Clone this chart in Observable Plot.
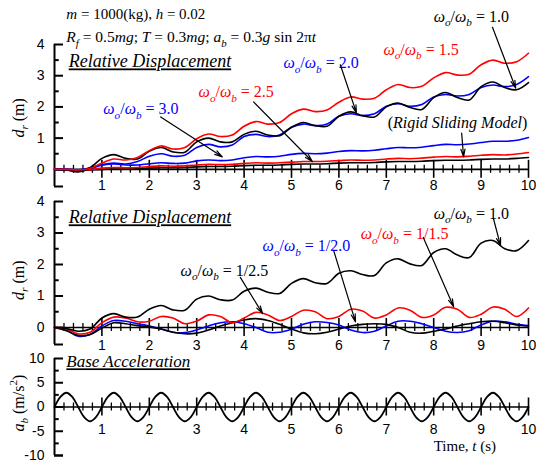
<!DOCTYPE html>
<html><head><meta charset="utf-8">
<script src="https://cdn.jsdelivr.net/npm/d3@7"></script>
<script src="https://cdn.jsdelivr.net/npm/@observablehq/plot@0.6"></script>
<style>
body{margin:0;background:#fff;}
#chart{position:relative;width:544px;height:462px;overflow:hidden;}
#chart svg{position:absolute;left:0;top:0;}
#chart text{font-weight:normal;}
</style></head><body><div id="chart"></div>
<script>
// ---------- data ----------
const time = [0,0.25,0.5,0.75,1,1.25,1.5,1.75,2,2.25,2.5,2.75,3,3.25,3.5,3.75,4,4.25,4.5,4.75,5,5.25,5.5,5.75,6,6.25,6.5,6.75,7,7.25,7.5,7.75,8,8.25,8.5,8.75,9,9.25,9.5,9.75,10];
// Panel 1 (omega_o/omega_b >= 1)
const top_r10 = [0,-0.02,-0.08,0.05,0.35,0.47,0.35,0.33,0.58,0.7,0.56,0.55,0.88,1.0,0.88,0.88,1.12,1.22,1.1,1.08,1.35,1.5,1.4,1.38,1.7,1.84,1.72,1.68,2.0,2.12,1.98,1.92,2.3,2.46,2.3,2.22,2.65,2.8,2.62,2.55,2.78];
const top_r15 = [0,0,-0.02,0.03,0.2,0.33,0.3,0.38,0.6,0.75,0.65,0.7,0.98,1.13,1.05,1.1,1.38,1.53,1.45,1.5,1.78,1.93,1.85,1.9,2.15,2.32,2.25,2.28,2.55,2.72,2.62,2.66,2.93,3.1,3.02,3.05,3.35,3.5,3.4,3.45,3.72];
const top_r20 = [0,0,-0.02,0.05,0.15,0.2,0.17,0.25,0.42,0.5,0.42,0.45,0.7,0.8,0.72,0.78,1.05,1.12,1.05,1.1,1.35,1.45,1.4,1.45,1.7,1.78,1.72,1.78,2.02,2.1,2.02,2.08,2.32,2.4,2.35,2.4,2.62,2.7,2.65,2.72,2.97];
const top_r25 = [0,0,-0.03,-0.01,0.04,0.06,0.05,0.06,0.09,0.11,0.1,0.11,0.14,0.16,0.15,0.16,0.19,0.21,0.2,0.21,0.23,0.25,0.25,0.26,0.28,0.3,0.29,0.3,0.33,0.35,0.34,0.36,0.39,0.41,0.4,0.42,0.45,0.47,0.46,0.49,0.54];
const top_r30 = [0,0,-0.02,0.03,0.13,0.17,0.14,0.14,0.18,0.21,0.19,0.2,0.27,0.3,0.28,0.3,0.37,0.41,0.4,0.42,0.48,0.51,0.5,0.52,0.57,0.6,0.59,0.61,0.66,0.7,0.69,0.71,0.76,0.8,0.79,0.81,0.86,0.9,0.9,0.93,1.02];
const top_rigid = [0,-0.01,-0.04,-0.02,0,0.01,0.01,0.02,0.04,0.05,0.05,0.06,0.08,0.09,0.09,0.1,0.12,0.13,0.13,0.14,0.16,0.17,0.17,0.18,0.2,0.21,0.21,0.22,0.24,0.25,0.25,0.26,0.28,0.29,0.29,0.3,0.32,0.33,0.33,0.35,0.38];
// Panel 2 (omega_o/omega_b <= 1)
const mid_r10 = [0,-0.03,-0.12,-0.05,0.3,0.44,0.33,0.33,0.58,0.7,0.56,0.55,0.9,1.0,0.88,0.87,1.15,1.25,1.12,1.08,1.4,1.55,1.42,1.4,1.72,1.8,1.68,1.65,2.05,2.18,2.02,1.97,2.38,2.5,2.3,2.22,2.68,2.76,2.5,2.44,2.76];
const mid_r15 = [0,-0.05,-0.2,-0.15,0.15,0.33,0.3,0.18,0.2,0.35,0.3,0.12,0.2,0.4,0.35,0.15,0.3,0.48,0.4,0.22,0.35,0.55,0.5,0.28,0.35,0.58,0.52,0.3,0.4,0.62,0.55,0.32,0.4,0.64,0.58,0.32,0.42,0.65,0.58,0.35,0.62];
const mid_r20 = [0,-0.08,-0.28,-0.22,0.05,0.22,0.2,0.12,0.05,-0.05,-0.15,-0.16,-0.08,0.05,0.15,0.18,0.12,0,-0.15,-0.15,-0.05,0.1,0.18,0.16,0.08,-0.08,-0.16,-0.12,0.05,0.2,0.2,0.12,0,-0.12,-0.16,-0.1,0.08,0.2,0.18,0.1,0.06];
const mid_r25 = [0,-0.1,-0.25,-0.22,-0.02,0.15,0.12,0.06,0.02,-0.05,-0.15,-0.2,-0.18,-0.08,0.05,0.15,0.24,0.28,0.22,0.1,-0.05,-0.17,-0.2,-0.15,-0.05,0.05,0.1,0.12,0.1,0,-0.15,-0.18,-0.12,-0.05,0.05,0.12,0.18,0.2,0.15,0.08,0.05];
// Panel 3 base acceleration (m/s^2), every 0.125 s
const timeFine = [0,0.125,0.25,0.375,0.5,0.625,0.75,0.875,1,1.125,1.25,1.375,1.5,1.625,1.75,1.875,2,2.125,2.25,2.375,2.5,2.625,2.75,2.875,3,3.125,3.25,3.375,3.5,3.625,3.75,3.875,4,4.125,4.25,4.375,4.5,4.625,4.75,4.875,5,5.125,5.25,5.375,5.5,5.625,5.75,5.875,6,6.125,6.25,6.375,6.5,6.625,6.75,6.875,7,7.125,7.25,7.375,7.5,7.625,7.75,7.875,8,8.125,8.25,8.375,8.5,8.625,8.75,8.875,9,9.125,9.25,9.375,9.5,9.625,9.75,9.875,10];
const baseAcc = [0,2.08,2.94,2.08,0,-2.08,-2.94,-2.08,0,2.08,2.94,2.08,0,-2.08,-2.94,-2.08,0,2.08,2.94,2.08,0,-2.08,-2.94,-2.08,0,2.08,2.94,2.08,0,-2.08,-2.94,-2.08,0,2.08,2.94,2.08,0,-2.08,-2.94,-2.08,0,2.08,2.94,2.08,0,-2.08,-2.94,-2.08,0,2.08,2.94,2.08,0,-2.08,-2.94,-2.08,0,2.08,2.94,2.08,0,-2.08,-2.94,-2.08,0,2.08,2.94,2.08,0,-2.08,-2.94,-2.08,0,2.08,2.94,2.08,0,-2.08,-2.94,-2.08,0];
// ticks
const xMajor = [1,2,3,4,5,6,7,8,9,10];
const xMinor = [0.2,0.4,0.6,0.8,1.2,1.4,1.6,1.8,2.2,2.4,2.6,2.8,3.2,3.4,3.6,3.8,4.2,4.4,4.6,4.8,5.2,5.4,5.6,5.8,6.2,6.4,6.6,6.8,7.2,7.4,7.6,7.8,8.2,8.4,8.6,8.8,9.2,9.4,9.6,9.8];
const dMajor = [0,1,2,3,4];
const dMinor = [0.5,1.5,2.5,3.5];
const aMajor = [-10,-5,0,5,10];
const aMinor = [-7.5,-2.5,2.5,7.5];
// labels (markup: *italic*, _{sub}, ^{sup}, leading ~ = underline)
const ratio = "*ω*_{*o*}/*ω*_{*b*} = ";

const SERIF = "'Liberation Serif','Times New Roman',serif";
const SANS = "'Liberation Sans',Arial,sans-serif";
const RED = "#ff0000", BLUE = "#0000ff", BLACK = "#000000";

function series(vals, tt, color, w = 1.6) {
  return Plot.line(vals, {x: (d, i) => tt[i], y: d => d, stroke: color, strokeWidth: w, curve: "catmull-rom"});
}
function axes(ymin, ymax, yMaj, yMin, px) {
  const maj = 9 / px, mnr = 4 / px;
  return [
    Plot.ruleY([0], {x1: 0, x2: 10, strokeWidth: 1.6}),
    Plot.ruleX(xMajor, {x: d => d, y1: -maj, y2: maj, strokeWidth: 1.6}),
    Plot.ruleX(xMinor, {x: d => d, y1: -mnr, y2: mnr, strokeWidth: 1.3}),
    Plot.ruleX([0], {y1: ymin, y2: ymax, strokeWidth: 2}),
    Plot.ruleY(yMaj, {y: d => d, x1: 0, x2: 0.19, strokeWidth: 2}),
    Plot.ruleY([ymin], {y: d => d, x1: 0, x2: 0.19, strokeWidth: 2}),
    Plot.ruleY(yMin, {y: d => d, x1: 0, x2: 0.1, strokeWidth: 2}),
    Plot.text(yMaj, {x: 0, y: d => d, text: d => String(d), dx: -10, textAnchor: "end", fontSize: 14, fontFamily: SANS})
  ];
}
function panel(mt, mb, ydom, marks) {
  return Plot.plot({
    width: 544, height: 462,
    marginLeft: 54, marginRight: 16, marginTop: mt, marginBottom: 462 - mb,
    x: {domain: [0, 10], axis: null},
    y: {domain: ydom, axis: null},
    style: {background: "transparent", overflow: "visible"},
    marks
  });
}
function label(txt, x, y, color, opts = {}) {
  return Plot.text([txt], {x, y, text: d => d, fill: color, fontFamily: SERIF, fontSize: 16, fontWeight: "normal", textAnchor: "start", ...opts});
}
function arrow(x1, y1, x2, y2) {
  return Plot.arrow([0], {x1, y1, x2, y2, stroke: BLACK, strokeWidth: 1.2, headLength: 10, headAngle: 30});
}

const p1 = panel(44, 186, [-0.55, 4], [
  ...axes(-0.55, 4, dMajor, dMinor, 31.2),
  Plot.text(xMajor, {x: d => d, y: -0.52, text: d => String(d), fontSize: 14, fontFamily: SANS}),
  series(top_rigid, time, BLACK),
  series(top_r25, time, RED),
  series(top_r30, time, BLUE),
  series(top_r20, time, BLUE),
  series(top_r10, time, BLACK),
  series(top_r15, time, RED),
  label("*m* = 1000(kg), *h* = 0.02", 0.25, 4.97, BLACK, {fontSize: 15}),
  label("*R*_{*f*} = 0.5*mg*; *T* = 0.3*mg*; *a*_{*b*} = 0.3*g* sin 2π*t*", 0.25, 4.23, BLACK, {fontSize: 15.5}),
  label("~*Relative Displacement*", 0.3, 3.45, BLACK, {fontSize: 18}),
  label("*d*_{*r*} (m)", -0.76, 1.65, BLACK, {rotate: -90, textAnchor: "middle"}),
  label(ratio + "1.0", 8.0, 4.9, BLACK),
  arrow(9.24, 4.55, 9.73, 2.6),
  label(ratio + "1.5", 6.94, 3.84, RED),
  label(ratio + "2.0", 4.83, 3.42, BLUE),
  arrow(6.03, 3.35, 6.37, 1.81),
  label(ratio + "2.5", 3.04, 2.48, RED),
  arrow(4.2, 2.16, 5.44, 0.25),
  label(ratio + "3.0", 1.03, 1.94, BLUE),
  arrow(2.24, 1.68, 3.54, 0.4),
  label("(*Rigid Sliding Model*)", 7.03, 1.48, BLACK),
  arrow(8.59, 1.16, 8.63, 0.4)
]);

const p2 = panel(201, 344, [-0.54, 4], [
  ...axes(-0.54, 4, dMajor, dMinor, 31.5),
  Plot.text(xMajor, {x: d => d, y: -0.57, text: d => String(d), fontSize: 14, fontFamily: SANS}),
  series(mid_r20, time, BLUE),
  series(mid_r25, time, BLACK),
  series(mid_r15, time, RED),
  series(mid_r10, time, BLACK),
  label("~*Relative Displacement*", 0.3, 3.49, BLACK, {fontSize: 18}),
  label("*d*_{*r*} (m)", -0.76, 1.5, BLACK, {rotate: -90, textAnchor: "middle"}),
  label(ratio + "1.0", 8.0, 3.62, BLACK),
  arrow(9.26, 3.46, 9.41, 2.6),
  label(ratio + "1/1.5", 6.46, 2.98, RED),
  arrow(7.78, 2.86, 8.42, 0.66),
  label(ratio + "1/2.0", 4.39, 2.6, BLUE),
  arrow(5.89, 2.44, 6.35, 0.18),
  label(ratio + "1/2.5", 2.66, 1.81, BLACK),
  arrow(3.92, 1.59, 4.39, 0.44)
]);

const p3 = panel(358, 455, [-10, 10], [
  ...axes(-10, 10, aMajor, aMinor, 4.85),
  Plot.text(xMajor, {x: d => d, y: -4.7, text: d => String(d), fontSize: 14, fontFamily: SANS}),
  series(baseAcc, timeFine, BLACK, 1.8),
  label("~*Base Acceleration*", 0.25, 9.3, BLACK, {fontSize: 17}),
  label("*a*_{*b*} (m/s^{2})", -0.76, 0.8, BLACK, {rotate: -90, textAnchor: "middle"}),
  label("Time, *t* (s)", 8.0, -8.0, BLACK, {fontSize: 15})
]);

const chart = document.getElementById("chart");
for (const p of [p1, p2, p3]) chart.appendChild(p);

function rich(svg) {
  for (const t of svg.querySelectorAll("text")) {
    let s = t.textContent;
    if (!/[*~]|_\{|\^\{/.test(s)) continue;
    const fs = parseFloat(getComputedStyle(t).fontSize) || 16;
    let underline = false;
    if (s[0] === "~") { underline = true; s = s.slice(1); }
    const segs = [];
    let it = false, mode = 0, cur = "";
    const flush = () => { if (cur) { segs.push({s: cur, it, mode}); cur = ""; } };
    for (let i = 0; i < s.length; i++) {
      const c = s[i];
      if (c === "*") { flush(); it = !it; }
      else if ((c === "_" || c === "^") && s[i + 1] === "{") { flush(); mode = c === "_" ? 1 : 2; i++; }
      else if (c === "}" && mode) { flush(); mode = 0; }
      else cur += c;
    }
    flush();
    t.textContent = "";
    let off = 0;
    for (const g of segs) {
      const ts = document.createElementNS("http://www.w3.org/2000/svg", "tspan");
      const target = g.mode === 1 ? fs * 0.3 : g.mode === 2 ? -fs * 0.4 : 0;
      if (target !== off) ts.setAttribute("dy", target - off);
      off = target;
      if (g.mode) ts.setAttribute("font-size", fs * 0.7);
      if (g.it) ts.setAttribute("font-style", "italic");
      ts.textContent = g.s;
      t.appendChild(ts);
    }
    if (underline) t.setAttribute("text-decoration", "underline");
  }
}
for (const p of [p1, p2, p3]) rich(p);
</script></body></html>
